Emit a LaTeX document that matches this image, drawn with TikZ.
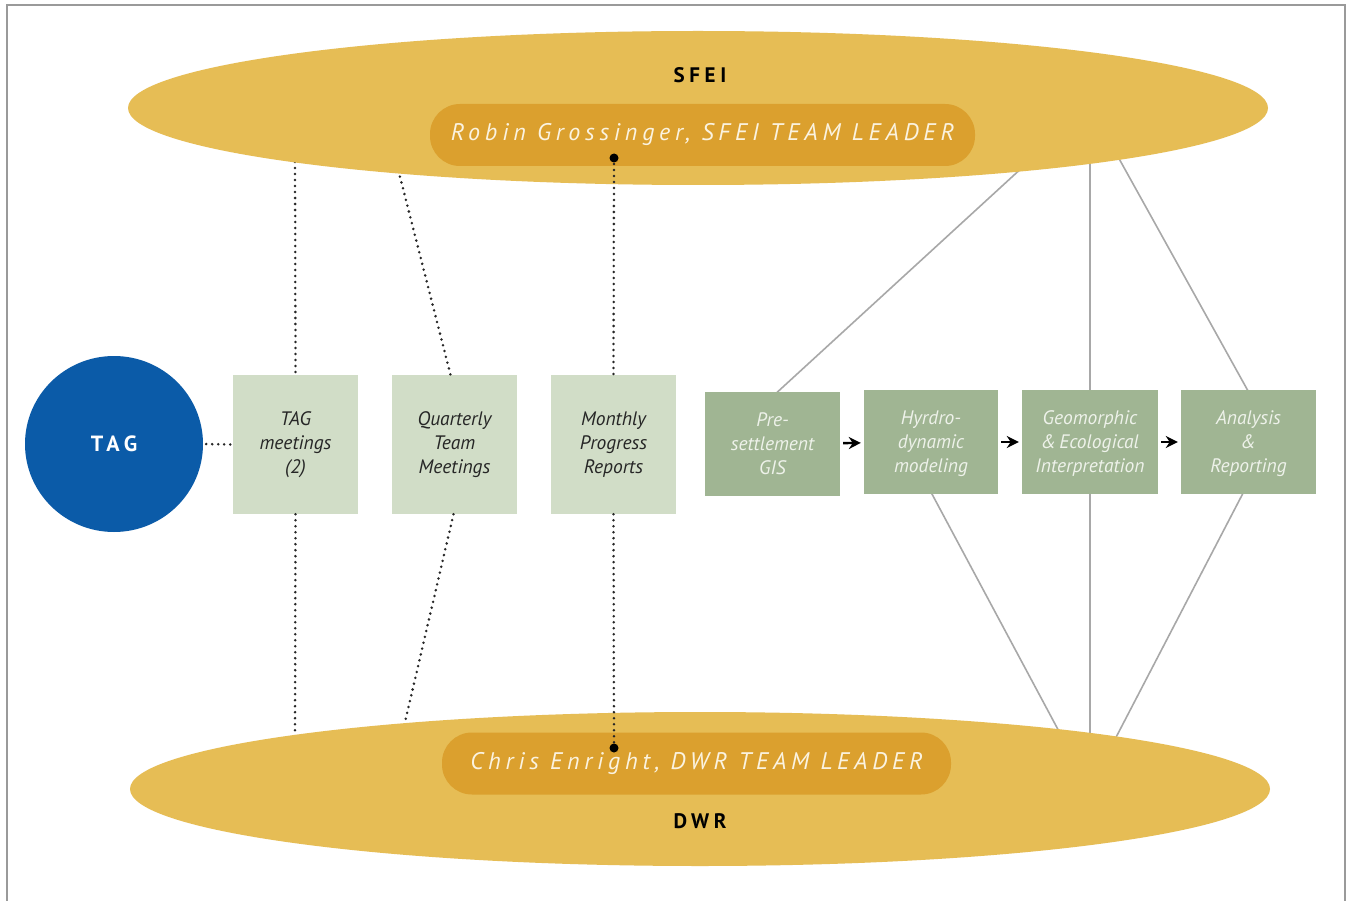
\documentclass[tikz,border=0pt]{standalone}
\usepackage{fontspec}
\setmainfont{PT Sans}
\newfontfamily\leaderfont[LetterSpace=20]{PT Sans}
\newfontfamily\orgfont[LetterSpace=22]{PT Sans}
\usetikzlibrary{shapes.geometric,arrows.meta,calc}

\definecolor{orgyellow}{HTML}{E6BD55}
\definecolor{leaderorange}{HTML}{DBA02E}
\definecolor{tagblue}{HTML}{0B5BA8}
\definecolor{meetgreen}{HTML}{D1DDC7}
\definecolor{taskgreen}{HTML}{A0B593}
\definecolor{tasktext}{HTML}{EEF2EA}
\definecolor{leadertext}{HTML}{FBF3E0}
\definecolor{framegray}{HTML}{9A9A9A}
\definecolor{linkgray}{HTML}{A8A8A8}

\pgfdeclarelayer{paper}
\pgfdeclarelayer{links}
\pgfsetlayers{paper,links,main}

\begin{document}
\begin{tikzpicture}[x=1pt,y=-1pt,
  org/.style={ellipse, fill=orgyellow, minimum width=1140pt, minimum height=154pt, inner sep=0pt},
  orgname/.style={font=\orgfont\bfseries\fontsize{21}{24}\selectfont, text=black, inner sep=0pt},
  leader/.style={rectangle, rounded corners=30pt, fill=leaderorange, minimum height=62pt,
    font=\leaderfont\itshape\fontsize{24}{28}\selectfont, text=leadertext, inner sep=0pt},
  meetbox/.style={rectangle, fill=meetgreen, minimum width=125pt, minimum height=139pt,
    align=center, font=\itshape\fontsize{19.5}{24}\selectfont, text=black!85, inner sep=0pt},
  taskbox/.style={rectangle, fill=taskgreen, minimum width=135pt, minimum height=104pt,
    align=center, font=\itshape\fontsize{19.5}{24}\selectfont, text=tasktext, inner sep=0pt,
    text depth=0pt},
  dotline/.style={draw=black!85, line width=2.8pt, line cap=round, dash pattern=on 0pt off 6pt},
  link/.style={draw=linkgray, line width=1.6pt},
  flow/.style={draw=black, line width=2.4pt, -{Stealth[length=12pt,width=12pt]}, shorten <=3pt, shorten >=3pt},
  enddot/.style={fill=black}
]
\useasboundingbox (0,0) rectangle (1351,901);
\begin{pgfonlayer}{paper}
\fill[white] (0,0) rectangle (1351,901);
\draw[framegray, line width=1.5pt] (7,905) -- (7,5) -- (1345,5) -- (1345,905);
\end{pgfonlayer}

% anchor points where the links meet the two ellipses
\coordinate (gisTop) at (1025,165);
\coordinate (geoTop) at (1090,150);
\coordinate (geoBot) at (1090,745);
\coordinate (anTop) at (1117,155);
\coordinate (hyBot) at (1062,737);
\coordinate (anBot) at (1112,745);
\coordinate (tmTop) at (295,150);
\coordinate (tmBot) at (295,745);
\coordinate (qTop) at (397,165);
\coordinate (qBot) at (402,735);
\coordinate (mTop) at (614,158);
\coordinate (mBot) at (614,748);

% task boxes
\node[taskbox] (gis) at (772.5,444) {Pre-\\settlement\\GIS};
\node[taskbox, minimum width=134pt] (hydro) at (931,442) {Hyrdro-\\dynamic\\modeling};
\node[taskbox, minimum width=136pt] (geo) at (1090,442) {Geomorphic\\\&\,Ecological\\Interpretation};
\node[taskbox] (analysis) at (1248.5,442) {Analysis\\\&\\Reporting};

% links between the team leaders and the tasks, kept under boxes and ellipses
\begin{pgfonlayer}{links}
\draw[link] ([xshift=3pt,yshift=-2pt]gis.north) -- (gisTop);
\draw[link] (geoTop) -- (geoBot);
\draw[link] (anTop) -- ([yshift=-2pt]analysis.north);
\draw[link] ([yshift=2pt]hydro.south) -- (hyBot);
\draw[link] ([xshift=-5pt,yshift=2pt]analysis.south) -- (anBot);
\end{pgfonlayer}

% meeting boxes
\node[meetbox] (tagm) at (295.5,444.5) {TAG\\meetings\\(2)};
\node[meetbox] (quart) at (454.5,444.5) {Quarterly\\Team\\Meetings};
\node[meetbox] (month) at (613.5,444.5) {Monthly\\Progress\\Reports};

% dotted links that run in under the ellipses
\draw[dotline] (tmTop) -- (tagm.north);
\draw[dotline] (tagm.south) -- (tmBot);
\draw[dotline] (qTop) -- ([xshift=-4pt]quart.north);
\draw[dotline] ([xshift=-1pt]quart.south) -- (qBot);

% the two organisations
\node[org] (sfei) at (698,108) {};
\node[org] (dwr) at (700,789) {};
\node[orgname] (sfeiname) at (700,75) {SFEI};
\node[orgname] (dwrname) at (700,821) {DWR};
\node[leader, minimum width=545pt] (robin) at (702.5,135) {Robin Grossinger, SFEI TEAM LEADER};
\node[leader, minimum width=509pt] (chris) at (696.5,763.5) {Chris Enright, DWR TEAM LEADER};

% the monthly reports link both leaders
\draw[dotline] (mTop) -- (month.north);
\draw[dotline] (month.south) -- (mBot);
\fill[enddot] (mTop) circle (4.5pt);
\fill[enddot] (mBot) circle (4.5pt);

% technical advisory group
\node[ellipse, fill=tagblue, minimum width=178pt, minimum height=176pt, inner sep=0pt,
  font=\orgfont\bfseries\fontsize{22}{24}\selectfont, text=white] (tag) at (114,444) {TAG};
\draw[dotline, shorten <=3pt] (tag.east) -- (tagm.west);

% task flow
\draw[flow] (gis) -- (hydro);
\draw[flow] (hydro) -- (geo);
\draw[flow] (geo) -- (analysis);
\end{tikzpicture}
\end{document}
